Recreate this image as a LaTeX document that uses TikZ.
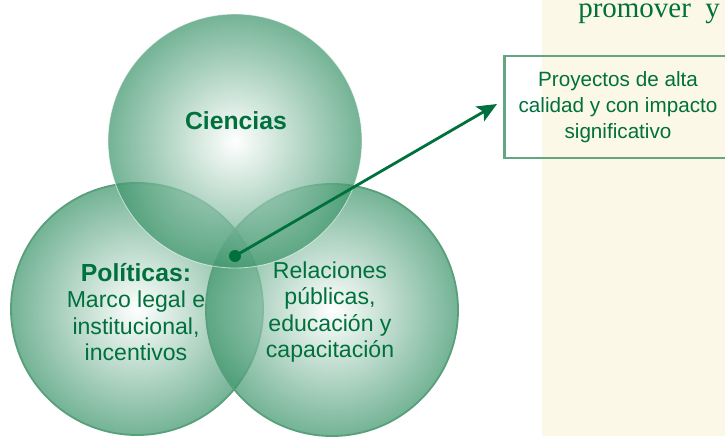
\documentclass[tikz,border=0pt]{standalone}
\usepackage{fontspec}
\setmainfont{Liberation Serif}
\setsansfont{Liberation Sans}
\usetikzlibrary{arrows.meta}
\definecolor{txtgreen}{RGB}{0,112,60}
\definecolor{circgreen}{RGB}{62,150,108}
\definecolor{circline}{RGB}{88,160,124}
\definecolor{boxgreen}{RGB}{100,166,130}
\definecolor{cream}{RGB}{252,248,232}

\begin{document}
\begin{tikzpicture}[x=0.025cm,y=-0.025cm,
    venn/.style={shading=radial,inner color=white,outer color=circgreen,fill opacity=0.72},
    txt/.style={font=\sffamily\fontsize{16.4}{18.7}\selectfont,text=txtgreen,align=center,inner sep=0pt}]
  \clip (0,0) rectangle (725,436);
  \fill[cream] (542,0) rectangle (725,436);
  \node[font=\rmfamily\fontsize{20.6}{20.6}\selectfont,text=txtgreen,anchor=base west,inner sep=0pt] (promover) at (578,17) {promover\ \ y};
  % the three circles
  \shade[venn,draw=circline,line width=1.3pt] (137,309) circle[radius=126];
  \shade[venn,draw=circline,line width=1.3pt] (332,310) circle[radius=126];
  \shade[venn,draw=white,draw opacity=0.6,line width=0.6pt] (235,141) circle[radius=127];
  \node[txt,font=\sffamily\bfseries\fontsize{17.6}{18.7}\selectfont] (ciencias) at (236,121) {Ciencias};
  \node[txt] (politicas) at (136,312) {{\bfseries\fontsize{17.6}{18.7}\selectfont Políticas:}\\Marco legal e\\institucional,\\incentivos};
  \node[txt] (relaciones) at (330,312) {Relaciones\\públicas,\\educación y\\capacitación};
  % box on the right
  \node[txt,font=\sffamily\fontsize{14.7}{18.5}\selectfont,draw=boxgreen,line width=2.1pt,minimum width=5.65cm,minimum height=2.55cm] (proyectos) at (618,107) {Proyectos de alta\\calidad y con impacto\\significativo};
  \node[circle,fill=txtgreen,inner sep=0pt,minimum size=0.3cm] (dot) at (235,256) {};
  \coordinate (tip) at (497,104);
  \draw[txtgreen,line width=2pt,-{Stealth[length=14pt,width=12pt,inset=3pt]}] (dot.center) -- (tip);
\end{tikzpicture}
\end{document}
